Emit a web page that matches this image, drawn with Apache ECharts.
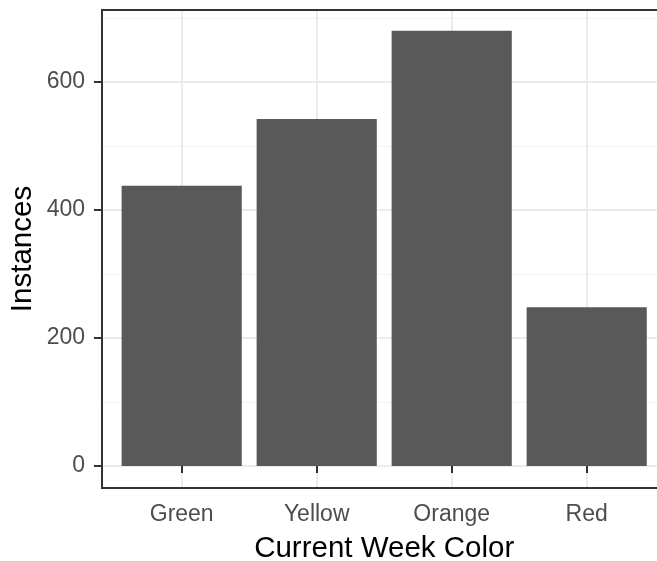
<!DOCTYPE html>
<html>
<head>
<meta charset="utf-8">
<script src="https://cdn.jsdelivr.net/npm/echarts@6/dist/echarts.min.js"></script>
<style>
html,body{margin:0;padding:0;background:#fff;}
#chart{width:657px;height:561px;}
</style>
</head>
<body>
<div id="chart"></div>
<script>
const categories = ['Green', 'Yellow', 'Orange', 'Red'];
const instances = [438, 542, 680, 248];
const yTicks = [0, 200, 400, 600];
const xTitle = 'Current Week Color';
const yTitle = 'Instances';

const FONT = '"Liberation Sans", Arial, sans-serif';
const chart = echarts.init(document.getElementById('chart'), null, {renderer: 'canvas'});

const option = {
  animation: false,
  backgroundColor: '#ffffff',
  grid: [
    // grid 0: horizontal gridlines + y ticks/labels (0 at y=466, 800 at y=-46)
    {left: 102, top: -46, width: 600, bottom: 95, containLabel: false, outerBoundsMode: 'none'},
    // grid 1: bars, vertical gridlines, x ticks/labels
    {left: 181.7, top: 10, width: 405, bottom: 73, containLabel: false, outerBoundsMode: 'none'},
    // grid 2: panel frame
    {left: 102, top: 10, width: 600, bottom: 73, show: true, borderColor: '#333333', borderWidth: 2, backgroundColor: 'transparent', z: 5, containLabel: false, outerBoundsMode: 'none'}
  ],
  xAxis: [
    {gridIndex: 0, type: 'value', min: 0, max: 1, show: false},
    {
      gridIndex: 1, type: 'category', data: categories, boundaryGap: false,
      axisLine: {show: false},
      axisTick: {show: true, length: 7, lineStyle: {color: '#333333', width: 2}},
      axisLabel: {color: '#4d4d4d', fontSize: 23, fontFamily: FONT, margin: 15},
      splitLine: {show: true, lineStyle: {color: '#ebebeb', width: 2}},
      name: xTitle, nameLocation: 'middle', nameGap: 46,
      nameTextStyle: {color: '#000000', fontSize: 29.5, fontFamily: FONT}
    },
    {gridIndex: 2, type: 'value', min: 0, max: 1, show: false}
  ],
  yAxis: [
    {
      gridIndex: 0, type: 'value', min: 0, max: 800, interval: 200,
      axisLine: {show: false},
      axisTick: {show: true, length: 8, lineStyle: {color: '#333333', width: 2}},
      axisLabel: {
        color: '#4d4d4d', fontSize: 23, fontFamily: FONT, margin: 17,
        formatter: v => (yTicks.indexOf(v) >= 0 ? String(v) : '')
      },
      splitLine: {show: true, lineStyle: {color: '#ebebeb', width: 2}},
      minorTick: {show: false, splitNumber: 2},
      minorSplitLine: {show: true, lineStyle: {color: '#f2f2f2', width: 1}}
    },
    {
      gridIndex: 1, type: 'value', min: -34.375, max: 712.5,
      axisLine: {show: false}, axisTick: {show: false}, axisLabel: {show: false},
      splitLine: {show: false},
      name: yTitle, nameLocation: 'middle', nameGap: 144, nameRotate: 90,
      nameTextStyle: {color: '#000000', fontSize: 29.5, fontFamily: FONT}
    },
    {gridIndex: 2, type: 'value', min: 0, max: 1, show: false}
  ],
  series: [{
    type: 'bar',
    xAxisIndex: 1, yAxisIndex: 1,
    data: instances,
    barCategoryGap: '11%',
    clip: false,
    itemStyle: {color: '#595959'},
    z: 3
  }]
};
chart.setOption(option);
</script>
</body>
</html>
